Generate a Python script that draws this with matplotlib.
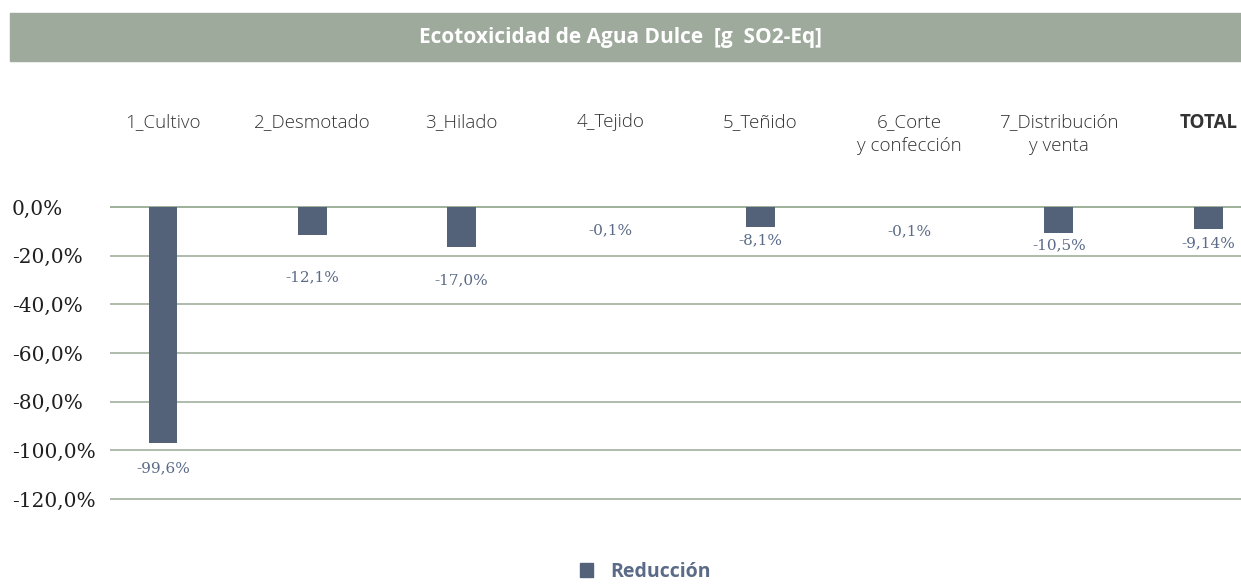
import matplotlib
matplotlib.use('Agg')
import matplotlib.pyplot as plt
import matplotlib.transforms as mtransforms
from matplotlib.patches import Rectangle, Patch
import numpy as np

# datos
etapas = ['1_Cultivo', '2_Desmotado', '3_Hilado', '4_Tejido', '5_Teñido',
          '6_Corte\ny confección', '7_Distribución\ny venta', 'TOTAL']
reduccion = [-96.8, -11.4, -16.5, -0.1, -8.2, -0.1, -10.6, -8.9]   # altura de barra (%)
etiquetas = ['-99,6%', '-12,1%', '-17,0%', '-0,1%', '-8,1%', '-0,1%', '-10,5%', '-9,14%']
yticks = [0, -20, -40, -60, -80, -100, -120]

# estilo
bar_col = '#536279'
lab_col = '#5b6b87'
grid_col = '#a2b09c'
lab_off = [26, 43, 33, 23, 13, 24, 12, 15]   # px debajo de la barra

W, H = 1241, 585
fig = plt.figure(figsize=(W / 100, H / 100), dpi=100)

# franja de titulo
fig.patches.append(Rectangle((10 / W, 1 - 61 / H), 1231 / W, 48 / H,
                             transform=fig.transFigure, color='#9eaa9c', zorder=0))
fig.text(0.5, 1 - 37 / H, 'Ecotoxicidad de Agua Dulce  [g  SO2-Eq]', color='white',
         fontsize=15, fontweight='bold', family='Open Sans', ha='center', va='center')

ax = fig.add_axes([110 / W, 1 - 500.2 / H, 1131 / W, 294.4 / H])
x = np.arange(len(etapas))
ax.bar(x, reduccion, width=0.194, color=bar_col, zorder=3)

for xi, v, t, off in zip(x, reduccion, etiquetas, lab_off):
    ax.annotate(t, (xi, v), xytext=(0, -off * 0.72), textcoords='offset points',
                ha='center', va='center', color=lab_col, fontsize=11, family='DejaVu Serif')

ax.set_xlim(-0.355, 7.22)
ax.set_ylim(-120.5, 0.5)
ax.set_yticks(yticks)
ax.set_yticklabels([f'{v:.1f}'.replace('.', ',') + '%' for v in yticks],
                   family='DejaVu Serif', fontsize=14.5, color='#1f1f1f')
for lab in ax.get_yticklabels():
    lab.set_horizontalalignment('left')
ax.tick_params(axis='y', length=0, pad=98 * 0.72)
ax.set_xticks([])
for s in ax.spines.values():
    s.set_visible(False)
for v in yticks:
    ax.axhline(v, color='#8ea388' if v == 0 else grid_col, lw=1.2, zorder=1)

# etiquetas de categoria arriba
tr = mtransforms.blended_transform_factory(ax.transData, fig.transFigure)
for xi, e in zip(x, etapas):
    ax.text(xi, 1 - 113 / H, e, transform=tr, ha='center', va='top', ma='center',
            fontsize=13.5, family='Open Sans', color='#333333',
            fontweight='bold' if e == 'TOTAL' else 'light', linespacing=1.45)

leg = fig.legend(handles=[Patch(color=bar_col, label='Reducción')], loc='lower center',
                 bbox_to_anchor=(0.52, -0.024), frameon=False, handlelength=0.7,
                 handleheight=0.7, handletextpad=0.9,
                 prop={'family': 'Open Sans', 'weight': 'bold', 'size': 14})
for t in leg.get_texts():
    t.set_color(lab_col)

fig.savefig('out.png', dpi=100)
